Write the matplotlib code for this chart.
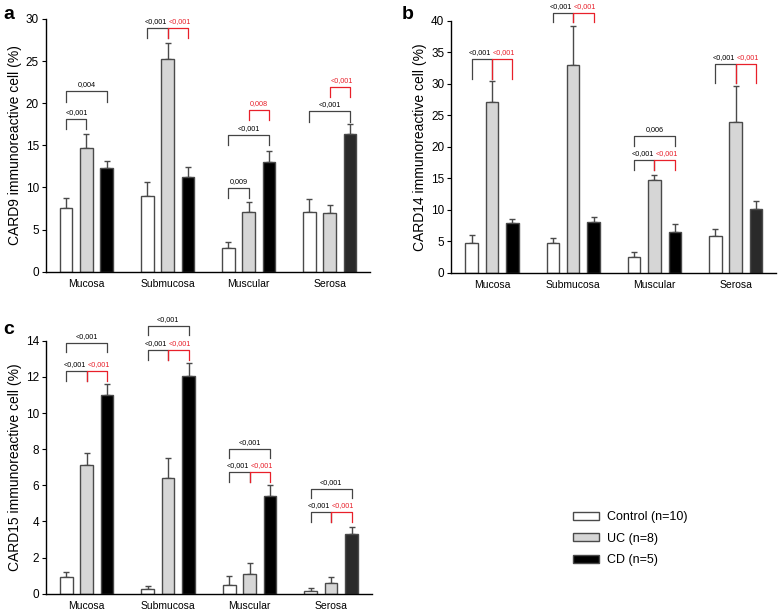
import numpy as np
import matplotlib
matplotlib.use('Agg')
import matplotlib.pyplot as plt
from matplotlib.patches import Patch

plt.rcParams['font.family'] = ['Liberation Sans', 'DejaVu Sans']

categories = ['Mucosa', 'Submucosa', 'Muscular', 'Serosa']
groups = ['Control (n=10)', 'UC (n=8)', 'CD (n=5)']

# CARD9 (panel a): means and upper error per group, in category order
card9_mean = [[7.6, 9.0, 2.8, 7.1],
              [14.7, 25.2, 7.1, 7.0],
              [12.3, 11.2, 13.0, 16.4]]
card9_err = [[1.1, 1.6, 0.7, 1.5],
             [1.7, 2.0, 1.2, 0.9],
             [0.9, 1.2, 1.3, 1.1]]

# CARD14 (panel b)
card14_mean = [[4.8, 4.7, 2.5, 5.8],
               [27.1, 33.0, 14.8, 23.9],
               [7.9, 8.1, 6.5, 10.1]]
card14_err = [[1.3, 0.9, 0.8, 1.1],
              [3.3, 6.2, 0.7, 5.8],
              [0.6, 0.7, 1.2, 1.3]]

# CARD15 (panel c)
card15_mean = [[0.9, 0.25, 0.5, 0.15],
               [7.1, 6.4, 1.1, 0.6],
               [11.0, 12.05, 5.4, 3.3]]
card15_err = [[0.3, 0.15, 0.5, 0.15],
              [0.7, 1.1, 0.6, 0.3],
              [0.6, 0.7, 0.6, 0.4]]

# significance brackets: (category, bar_from, bar_to, height, leg, label, colour)
card9_sig = [(0, 0, 1, 18.1, 1.2, '<0,001', 'k'),
             (0, 0, 2, 21.4, 1.2, '0,004', 'k'),
             (1, 0, 1, 28.9, 1.2, '<0,001', 'k'),
             (1, 1, 2, 28.9, 1.2, '<0,001', 'r'),
             (2, 0, 1, 9.9, 1.2, '0,009', 'k'),
             (2, 0, 2, 16.2, 1.2, '<0,001', 'k'),
             (2, 1, 2, 19.2, 1.2, '0,008', 'r'),
             (3, 0, 2, 19.1, 1.3, '<0,001', 'k'),
             (3, 1, 2, 21.9, 1.2, '<0,001', 'r')]
card14_sig = [(0, 0, 1, 33.9, 3.1, '<0,001', 'k'),
              (0, 1, 2, 33.9, 3.1, '<0,001', 'r'),
              (1, 0, 1, 41.3, 1.5, '<0,001', 'k'),
              (1, 1, 2, 41.3, 1.5, '<0,001', 'r'),
              (2, 0, 2, 21.7, 1.6, '0,006', 'k'),
              (2, 0, 1, 17.9, 1.6, '<0,001', 'k'),
              (2, 1, 2, 17.9, 1.6, '<0,001', 'r'),
              (3, 0, 1, 33.1, 2.9, '<0,001', 'k'),
              (3, 1, 2, 33.1, 2.9, '<0,001', 'r')]
card15_sig = [(0, 0, 1, 12.35, 0.55, '<0,001', 'k'),
              (0, 1, 2, 12.35, 0.55, '<0,001', 'r'),
              (0, 0, 2, 13.9, 0.5, '<0,001', 'k'),
              (1, 0, 1, 13.5, 0.55, '<0,001', 'k'),
              (1, 1, 2, 13.5, 0.55, '<0,001', 'r'),
              (1, 0, 2, 14.8, 0.5, '<0,001', 'k'),
              (2, 0, 1, 6.75, 0.55, '<0,001', 'k'),
              (2, 1, 2, 6.75, 0.55, '<0,001', 'r'),
              (2, 0, 2, 8.0, 0.5, '<0,001', 'k'),
              (3, 0, 1, 4.5, 0.55, '<0,001', 'k'),
              (3, 1, 2, 4.5, 0.55, '<0,001', 'r'),
              (3, 0, 2, 5.77, 0.5, '<0,001', 'k')]

FILLS = ['white', '#d6d6d6', 'black']
EDGE = '#4a4a4a'
RED = '#e8202a'
OFFSETS = [-0.25, 0.0, 0.25]
WIDTH = 0.155


def draw_panel(ax, means, errs, sigs, ymax, ystep, ylabel):
    x = np.arange(len(categories))
    for g in range(3):
        cols = [FILLS[g]] * len(categories)
        if g == 2:
            cols[-1] = '#2a2a2a'
        ax.bar(x + OFFSETS[g], means[g], width=WIDTH, color=cols,
               edgecolor=EDGE, lw=1, zorder=2)
        ax.errorbar(x + OFFSETS[g], means[g],
                    yerr=[np.zeros(len(categories)), errs[g]],
                    fmt='none', ecolor=EDGE, elinewidth=1, capsize=2.5,
                    capthick=1, zorder=1)
    pairs = {(s[0], s[3]) for s in sigs if (s[1], s[2]) == (1, 2)}
    for cat, i, j, h, leg, label, c in sigs:
        col = RED if c == 'r' else '#444444'
        x0, x1 = cat + OFFSETS[i], cat + OFFSETS[j]
        ax.plot([x0, x0, x1, x1], [h - leg, h, h, h - leg], color=col,
                lw=0.9, clip_on=False, zorder=3)
        # side-by-side labels are pushed apart from the shared middle leg
        if (cat, h) in pairs and (i, j) == (0, 1):
            tx, ha = x1 - 0.01, 'right'
        elif (cat, h) in pairs and (i, j) == (1, 2):
            tx, ha = x0 + 0.01, 'left'
        else:
            tx, ha = (x0 + x1) / 2, 'center'
        ax.text(tx, h + ymax * 0.012, label, ha=ha, va='bottom',
                fontsize=5.2, color=RED if c == 'r' else 'k')
    ax.set_xlim(-0.5, 3.5)
    ax.set_ylim(0, ymax)
    ax.set_yticks(np.arange(0, ymax + 0.01, ystep))
    ax.set_xticks(x)
    ax.set_xticklabels(categories, fontsize=7.5)
    ax.tick_params(axis='x', length=0, pad=5)
    ax.tick_params(axis='y', direction='out', length=3, labelsize=8.5, pad=2)
    ax.set_ylabel(ylabel, fontsize=10, labelpad=3)
    for s in ['top', 'right']:
        ax.spines[s].set_visible(False)
    for s in ['left', 'bottom']:
        ax.spines[s].set_linewidth(1)


fig = plt.figure(figsize=(7.78, 6.12), dpi=100)
ax_a = fig.add_axes([0.059, 0.556, 0.417, 0.413])
ax_b = fig.add_axes([0.580, 0.554, 0.418, 0.412])
ax_c = fig.add_axes([0.059, 0.030, 0.419, 0.413])

draw_panel(ax_a, card9_mean, card9_err, card9_sig, 30, 5,
           'CARD9 immunoreactive cell (%)')
draw_panel(ax_b, card14_mean, card14_err, card14_sig, 40, 5,
           'CARD14 immunoreactive cell (%)')
draw_panel(ax_c, card15_mean, card15_err, card15_sig, 14, 2,
           'CARD15 immunoreactive cell (%)')

fig.text(0.004, 0.99, 'a', fontsize=14, fontweight='bold', va='top')
fig.text(0.516, 0.99, 'b', fontsize=14, fontweight='bold', va='top')
fig.text(0.004, 0.475, 'c', fontsize=14, fontweight='bold', va='top')

handles = [Patch(facecolor=FILLS[g], edgecolor=EDGE, lw=1) for g in range(3)]
fig.legend(handles, groups, loc='upper left',
           bbox_to_anchor=(0.722, 1 - 500 / 612), frameon=False,
           fontsize=9, handlelength=2.1, handleheight=0.6,
           labelspacing=0.75, handletextpad=0.6)

fig.savefig('out.png', dpi=100)
